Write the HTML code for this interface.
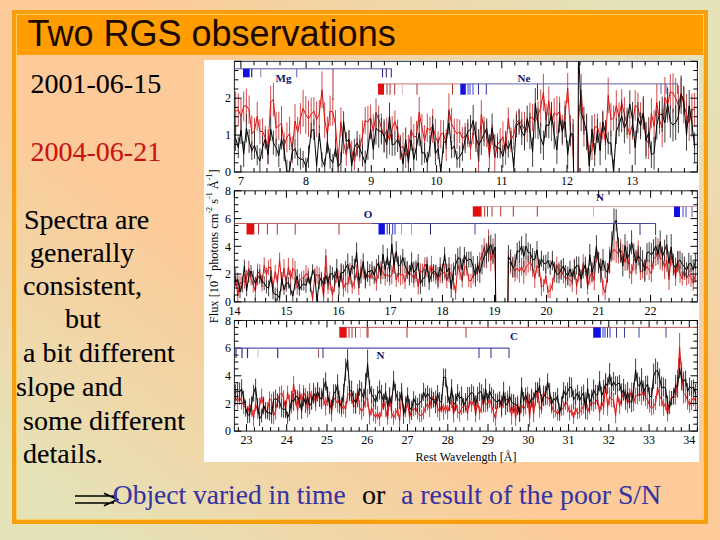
<!DOCTYPE html>
<html><head><meta charset="utf-8"><style>
*{margin:0;padding:0;box-sizing:border-box}
html,body{width:720px;height:540px;overflow:hidden}
body{position:relative;background:linear-gradient(to top right,#E5E2B7 0%,#E5E2B7 8%,#FCCB99 40%,#FCCB99 60%,#E5E2B7 92%,#E5E2B7 100%);font-family:"Liberation Serif",serif}
.frame{position:absolute;left:12px;top:10px;width:696px;height:514px;border:4px solid #F69E0E}
.inner{position:absolute;left:16px;top:14px;width:688px;height:506px;border:1px solid rgba(255,205,80,0.85)}
.title{position:absolute;left:17px;top:15px;width:686px;height:39.5px;background:#FF9C00}
.title span{position:absolute;left:10.5px;top:-3.3px;font-family:"Liberation Sans",sans-serif;font-size:36px;line-height:44px;color:#1a0800;white-space:pre}
.t{position:absolute;font-size:28px;line-height:32px;color:#000;white-space:pre;-webkit-text-stroke:0.1px currentColor}
.chart{position:absolute;left:204px;top:60px;width:495px;height:402px;background:#fff}
svg{position:absolute;left:0;top:0}
svg text{font-family:"Liberation Serif",serif}
</style></head><body>
<div class="frame"></div>
<div class="inner"></div>
<div class="title"><span>Two RGS observations</span></div>
<div class="t" style="left:30.5px;top:68.3px">2001-06-15</div>
<div class="t" style="left:30.5px;top:135.5px;color:#C81414">2004-06-21</div>
<div class="t" style="left:24px;top:203.5px">Spectra are</div>
<div class="t" style="left:30px;top:237px">generally</div>
<div class="t" style="left:23px;top:270px">consistent,</div>
<div class="t" style="left:65px;top:303px">but</div>
<div class="t" style="left:23px;top:337px">a bit different</div>
<div class="t" style="left:16px;top:370.5px">slope and</div>
<div class="t" style="left:23px;top:404.5px">some different</div>
<div class="t" style="left:23px;top:438px">details.</div>
<div class="chart"></div>
<svg width="720" height="540" viewBox="0 0 720 540">
<clipPath id="c0"><rect x="234.4" y="61.3" width="463.0" height="110.7"/></clipPath><g clip-path="url(#c0)">
<path d="M235.6 131.5V91.6M238.3 125.7V93.4M241.0 134.3V98.4M243.7 121.3V91.4M246.4 123.1V88.5M249.1 123.9V95.5M251.8 152.5V115.5M254.5 143.0V117.8M257.2 131.0V101.7M259.9 144.1V119.2M262.6 145.1V117.9M265.3 149.4V125.9M268.0 164.2V129.5M270.7 117.9V85.8M273.4 116.4V82.7M276.1 144.4V111.7M278.8 140.2V111.7M281.5 140.1V105.9M284.2 159.0V132.5M286.9 152.3V122.3M289.6 150.3V116.8M292.3 163.3V136.6M295.0 137.8V104.2M297.7 147.8V116.8M300.4 133.9V103.0M303.1 126.8V89.9M305.8 133.8V96.1M308.5 136.9V100.6M311.2 130.7V97.7M313.9 125.3V97.0M316.6 137.4V101.6M319.3 127.6V100.1M322.0 108.2V71.4M324.7 138.1V102.0M327.4 151.7V116.6M330.1 126.1V95.6M332.8 125.8V98.2M335.5 139.8V110.1M338.2 172.0V149.3M340.9 136.8V107.4M343.6 153.8V132.0M346.3 165.8V143.8M349.0 148.7V129.8M351.7 160.5V140.7M354.4 170.5V152.5M357.1 156.7V137.7M359.8 161.0V134.5M362.5 150.7V120.6M365.2 133.9V106.9M367.9 138.2V106.0M370.6 130.5V104.5M373.3 148.5V114.2M376.0 128.0V98.4M378.7 133.4V105.7M381.4 142.0V113.4M384.1 151.7V121.5M386.8 142.6V117.5M389.5 154.6V126.1M392.2 140.4V116.2M394.9 132.6V110.2M397.6 142.8V119.6M400.3 160.2V134.8M403.0 160.7V132.5M405.7 168.0V144.8M408.4 161.3V134.8M411.1 144.3V116.5M413.8 150.3V124.1M416.5 151.3V121.0M419.2 127.3V97.0M421.9 141.1V113.9M424.6 156.4V125.2M427.3 142.0V113.6M430.0 143.8V116.6M432.7 143.1V108.9M435.4 153.4V118.7M438.1 155.4V131.3M440.8 148.4V119.9M443.5 146.1V120.2M446.2 161.0V129.3M448.9 125.8V93.3M451.6 139.2V108.1M454.3 141.0V118.7M457.0 149.0V118.7M459.7 143.4V119.5M462.4 149.6V127.0M465.1 149.5V122.9M467.8 147.1V122.8M470.5 159.6V138.4M473.2 144.1V121.2M475.9 148.1V121.7M478.6 172.0V150.0M481.3 128.7V100.2M484.0 141.7V116.6M486.7 147.2V121.3M489.4 169.0V142.2M492.1 145.0V124.2M494.8 171.8V144.5M497.5 154.9V133.2M500.2 155.4V128.2M502.9 151.6V121.7M505.6 164.9V136.7M508.3 128.9V107.4M511.0 152.3V127.5M513.7 149.8V119.5M516.4 133.9V111.1M519.1 132.4V108.4M521.8 136.9V111.6M524.5 146.9V111.8M527.2 142.2V116.8M529.9 133.0V102.6M532.6 131.0V103.9M535.3 138.6V104.9M538.0 129.0V101.1M540.7 127.1V89.3M543.4 111.0V73.8M546.1 137.0V103.6M548.8 115.2V86.5M551.5 141.2V104.4M554.2 127.8V97.9M556.9 134.1V95.9M559.6 125.8V96.6M562.3 145.5V114.7M565.0 129.9V100.8M567.7 102.9V73.1M570.4 146.7V115.0M573.1 156.8V123.7M578.5 135.4V104.4M581.2 106.5V74.1M583.9 146.8V114.8M586.6 141.6V115.2M589.3 166.3V144.9M592.0 160.0V139.7M594.7 140.5V113.9M597.4 140.0V113.4M600.1 151.2V122.2M602.8 139.5V110.3M605.5 159.6V126.8M608.2 113.3V77.5M610.9 136.3V102.9M613.6 130.8V105.5M616.3 120.6V90.3M619.0 131.3V102.4M621.7 116.6V89.2M624.4 131.2V97.2M627.1 138.3V111.1M629.8 154.1V116.5M632.5 139.8V108.5M635.2 120.7V90.2M637.9 122.1V92.4M640.6 136.1V102.2M643.3 127.6V98.1M646.0 155.9V122.1M648.7 159.1V128.6M651.4 128.3V98.1M654.1 142.6V110.2M656.8 121.1V84.0M659.5 134.2V105.4M662.2 147.2V109.0M664.9 117.9V76.9M667.6 122.5V86.8M670.3 109.7V74.1M673.0 112.6V73.4M675.7 118.3V78.1M678.4 125.0V85.4M681.1 108.0V77.7M683.8 123.6V86.6M686.5 133.4V93.8M689.2 141.0V105.5M691.9 124.6V93.6M694.6 126.9V93.0" stroke="#cc3636" stroke-width="0.9" fill="none"/>
<polyline points="235.6,111.5 238.3,109.6 241.0,116.4 243.7,106.3 246.4,105.8 249.1,109.7 251.8,134.0 254.5,130.4 257.2,116.4 259.9,131.6 262.6,131.5 265.3,137.7 268.0,146.9 270.7,101.9 273.4,99.6 276.1,128.1 278.8,125.9 281.5,123.0 284.2,145.8 286.9,137.3 289.6,133.6 292.3,150.0 295.0,121.0 297.7,132.3 300.4,118.5 303.1,108.4 305.8,114.9 308.5,118.8 311.2,114.2 313.9,111.2 316.6,119.5 319.3,113.9 322.0,89.8 324.7,120.1 327.4,134.1 330.1,110.9 332.8,112.0 335.5,125.0 338.2,161.4 340.9,122.1 343.6,142.9 346.3,154.8 349.0,139.3 351.7,150.6 354.4,161.5 357.1,147.2 359.8,147.8 362.5,135.7 365.2,120.4 367.9,122.1 370.6,117.5 373.3,131.4 376.0,113.2 378.7,119.5 381.4,127.7 384.1,136.6 386.8,130.1 389.5,140.4 392.2,128.3 394.9,121.4 397.6,131.2 400.3,147.5 403.0,146.6 405.7,156.4 408.4,148.0 411.1,130.4 413.8,137.2 416.5,136.1 419.2,112.2 421.9,127.5 424.6,140.8 427.3,127.8 430.0,130.2 432.7,126.0 435.4,136.1 438.1,143.4 440.8,134.2 443.5,133.1 446.2,145.1 448.9,109.6 451.6,123.7 454.3,129.8 457.0,133.8 459.7,131.4 462.4,138.3 465.1,136.2 467.8,134.9 470.5,149.0 473.2,132.7 475.9,134.9 478.6,161.5 481.3,114.4 484.0,129.1 486.7,134.3 489.4,155.6 492.1,134.6 494.8,158.1 497.5,144.1 500.2,141.8 502.9,136.7 505.6,150.8 508.3,118.2 511.0,139.9 513.7,134.7 516.4,122.5 519.1,120.4 521.8,124.3 524.5,129.3 527.2,129.5 529.9,117.8 532.6,117.5 535.3,121.7 538.0,115.1 540.7,108.2 543.4,92.4 546.1,120.3 548.8,100.8 551.5,122.8 554.2,112.9 556.9,115.0 559.6,111.2 562.3,130.1 565.0,115.4 567.7,88.0 570.4,130.9 573.1,140.2 573.6,174.0" stroke="#dd1010" stroke-width="1" fill="none"/>
<polyline points="578.0,174.0 578.5,119.9 581.2,90.3 583.9,130.8 586.6,128.4 589.3,155.6 592.0,149.9 594.7,127.2 597.4,126.7 600.1,136.7 602.8,124.9 605.5,143.2 608.2,95.4 610.9,119.6 613.6,118.1 616.3,105.5 619.0,116.9 621.7,102.9 624.4,114.2 627.1,124.7 629.8,135.3 632.5,124.2 635.2,105.4 637.9,107.3 640.6,119.2 643.3,112.8 646.0,139.0 648.7,143.9 651.4,113.2 654.1,126.4 656.8,102.5 659.5,119.8 662.2,128.1 664.9,97.4 667.6,104.6 670.3,91.9 673.0,93.0 675.7,98.2 678.4,105.2 681.1,92.9 683.8,105.1 686.5,113.6 689.2,123.3 691.9,109.1 694.6,110.0" stroke="#dd1010" stroke-width="1" fill="none"/>
<path d="M235.6 150.7V126.0M238.3 158.2V136.7M241.0 144.1V116.2M243.7 167.0V141.3M246.4 142.5V113.9M249.1 152.9V129.2M251.8 160.1V141.1M254.5 158.9V131.4M257.2 165.3V145.1M259.9 172.0V148.2M262.6 159.1V135.7M265.3 148.3V129.4M268.0 164.3V144.9M270.7 140.9V117.2M273.4 154.7V130.6M276.1 156.5V138.7M278.8 167.0V144.3M281.5 149.5V127.7M284.2 161.2V139.1M286.9 172.0V159.7M289.6 172.0V161.1M292.3 160.5V142.9M295.0 158.6V138.5M297.7 165.6V148.5M300.4 169.7V148.2M303.1 167.8V150.9M305.8 172.0V157.6M308.5 167.8V145.5M311.2 138.0V122.7M313.9 140.0V119.3M316.6 172.0V157.7M319.3 141.1V125.5M322.0 167.3V152.4M324.7 172.0V158.6M327.4 153.3V130.4M330.1 168.6V148.4M332.8 171.8V154.0M335.5 157.0V139.2M338.2 172.0V153.9M340.9 172.0V151.7M343.6 131.9V111.2M346.3 151.2V132.0M349.0 148.6V130.4M351.7 172.0V155.4M354.4 156.5V138.8M357.1 155.3V130.9M359.8 157.5V139.4M362.5 166.6V144.3M365.2 172.0V150.4M367.9 160.1V138.2M370.6 139.2V118.5M373.3 159.6V139.3M376.0 144.6V112.0M378.7 147.9V113.9M381.4 144.6V117.9M384.1 152.7V119.2M386.8 158.6V130.8M389.5 129.4V102.7M392.2 155.8V134.1M394.9 155.7V131.5M397.6 152.0V126.3M400.3 158.4V136.4M403.0 172.0V153.6M405.7 151.8V127.4M408.4 172.0V150.6M411.1 150.7V129.3M413.8 170.7V148.0M416.5 160.6V132.5M419.2 146.1V119.7M421.9 165.1V141.0M424.6 162.9V143.0M427.3 172.0V151.9M430.0 157.1V135.5M432.7 132.6V115.8M435.4 165.2V142.6M438.1 159.2V138.5M440.8 172.0V163.9M443.5 153.4V132.5M446.2 149.0V133.1M448.9 134.5V111.9M451.6 158.3V140.2M454.3 157.6V134.2M457.0 167.8V150.9M459.7 167.8V145.6M462.4 161.1V142.8M465.1 153.0V126.9M467.8 144.0V119.1M470.5 143.9V115.0M473.2 135.4V105.1M475.9 152.0V121.8M478.6 161.9V129.0M481.3 154.9V125.3M484.0 146.2V121.4M486.7 138.8V118.4M489.4 157.6V134.2M492.1 141.6V113.5M494.8 157.3V134.2M497.5 158.0V137.1M500.2 158.4V139.0M502.9 167.7V145.0M505.6 154.0V131.1M508.3 157.6V140.5M511.0 148.9V131.0M513.7 172.0V157.6M516.4 137.3V114.4M519.1 134.8V109.8M521.8 145.0V119.0M524.5 150.4V122.0M527.2 132.3V105.6M529.9 148.8V112.7M532.6 166.8V137.5M535.3 118.5V88.1M538.0 139.1V107.8M540.7 153.7V123.0M543.4 160.0V130.6M546.1 137.8V111.9M548.8 138.2V112.7M551.5 125.8V102.0M554.2 148.8V121.7M556.9 163.8V135.8M559.6 132.4V102.8M562.3 143.5V119.6M565.0 137.3V106.0M567.7 168.6V140.4M570.4 145.0V122.3M573.1 150.0V119.0M578.5 72.6V61.3M581.2 131.2V95.1M583.9 134.8V106.9M586.6 150.0V113.6M589.3 172.0V151.1M592.0 142.6V115.3M594.7 166.4V142.9M597.4 142.9V118.7M600.1 165.3V135.9M602.8 132.1V111.7M605.5 145.3V119.9M608.2 154.5V131.8M610.9 155.3V130.5M613.6 172.0V159.3M616.3 144.1V118.0M619.0 136.5V113.6M621.7 132.4V99.5M624.4 143.3V113.0M627.1 134.9V107.7M629.8 118.1V90.3M632.5 136.8V102.0M635.2 165.0V130.5M637.9 133.3V102.2M640.6 139.3V112.2M643.3 129.9V96.1M646.0 158.9V122.5M648.7 147.7V117.2M651.4 167.9V141.4M654.1 169.6V136.8M656.8 139.6V110.1M659.5 128.2V100.8M662.2 132.1V96.4M664.9 142.6V102.9M667.6 119.5V88.1M670.3 137.8V105.6M673.0 141.4V108.8M675.7 140.2V105.1M678.4 133.1V99.7M681.1 113.9V75.5M683.8 114.8V86.0M686.5 150.7V119.4M689.2 121.7V89.9M691.9 136.7V108.8M694.6 162.3V132.4" stroke="#2a2a2a" stroke-width="0.9" fill="none"/>
<polyline points="235.6,138.4 238.3,147.5 241.0,130.2 243.7,154.1 246.4,128.2 249.1,141.1 251.8,150.6 254.5,145.2 257.2,155.2 259.9,160.9 262.6,147.4 265.3,138.9 268.0,154.6 270.7,129.1 273.4,142.7 276.1,147.6 278.8,155.6 281.5,138.6 284.2,150.2 286.9,172.0 289.6,170.7 292.3,151.7 295.0,148.6 297.7,157.1 300.4,159.0 303.1,159.4 305.8,166.1 308.5,156.6 311.2,130.3 313.9,129.7 316.6,165.8 319.3,133.3 322.0,159.9 324.7,166.2 327.4,141.8 330.1,158.5 332.8,162.9 335.5,148.1 338.2,166.6 340.9,162.6 343.6,121.5 346.3,141.6 349.0,139.5 351.7,166.0 354.4,147.6 357.1,143.1 359.8,148.5 362.5,155.5 365.2,163.1 367.9,149.1 370.6,128.9 373.3,149.5 376.0,128.3 378.7,130.9 381.4,131.2 384.1,135.9 386.8,144.7 389.5,116.0 392.2,145.0 394.9,143.6 397.6,139.2 400.3,147.4 403.0,163.9 405.7,139.6 408.4,162.5 411.1,140.0 413.8,159.4 416.5,146.6 419.2,132.9 421.9,153.0 424.6,153.0 427.3,162.6 430.0,146.3 432.7,124.2 435.4,153.9 438.1,148.9 440.8,172.0 443.5,143.0 446.2,141.1 448.9,123.2 451.6,149.2 454.3,145.9 457.0,159.3 459.7,156.7 462.4,151.9 465.1,140.0 467.8,131.5 470.5,129.4 473.2,120.3 475.9,136.9 478.6,145.4 481.3,140.1 484.0,133.8 486.7,128.6 489.4,145.9 492.1,127.6 494.8,145.8 497.5,147.6 500.2,148.7 502.9,156.3 505.6,142.5 508.3,149.1 511.0,139.9 513.7,167.3 516.4,125.9 519.1,122.3 521.8,132.0 524.5,136.2 527.2,118.9 529.9,130.8 532.6,152.2 535.3,103.3 538.0,123.5 540.7,138.3 543.4,145.3 546.1,124.9 548.8,125.5 551.5,113.9 554.2,135.2 556.9,149.8 559.6,117.6 562.3,131.5 565.0,121.6 567.7,154.5 570.4,133.7 573.1,134.5 573.6,174.0" stroke="#000000" stroke-width="1" fill="none"/>
<polyline points="578.0,174.0 578.5,48.2 581.2,113.2 583.9,120.9 586.6,131.8 589.3,165.9 592.0,128.9 594.7,154.6 597.4,130.8 600.1,150.6 602.8,121.9 605.5,132.6 608.2,143.1 610.9,142.9 613.6,172.0 616.3,131.0 619.0,125.0 621.7,115.9 624.4,128.1 627.1,121.3 629.8,104.2 632.5,119.4 635.2,147.8 637.9,117.8 640.6,125.7 643.3,113.0 646.0,140.7 648.7,132.5 651.4,154.7 654.1,153.2 656.8,124.9 659.5,114.5 662.2,114.2 664.9,122.8 667.6,103.8 670.3,121.7 673.0,125.1 675.7,122.6 678.4,116.4 681.1,94.7 683.8,100.4 686.5,135.0 689.2,105.8 691.9,122.8 694.6,147.4" stroke="#000000" stroke-width="1" fill="none"/>
</g>
<rect x="234.4" y="61.3" width="463.0" height="110.7" fill="none" stroke="#222" stroke-width="1"/>
<path d="M240.9 172.0V165.0M240.9 61.3V68.3M254.0 172.0V168.0M254.0 61.3V65.3M267.0 172.0V168.0M267.0 61.3V65.3M280.0 172.0V168.0M280.0 61.3V65.3M293.1 172.0V168.0M293.1 61.3V65.3M306.1 172.0V165.0M306.1 61.3V68.3M319.2 172.0V168.0M319.2 61.3V65.3M332.2 172.0V168.0M332.2 61.3V65.3M345.3 172.0V168.0M345.3 61.3V65.3M358.3 172.0V168.0M358.3 61.3V65.3M371.3 172.0V165.0M371.3 61.3V68.3M384.4 172.0V168.0M384.4 61.3V65.3M397.4 172.0V168.0M397.4 61.3V65.3M410.5 172.0V168.0M410.5 61.3V65.3M423.5 172.0V168.0M423.5 61.3V65.3M436.6 172.0V165.0M436.6 61.3V68.3M449.6 172.0V168.0M449.6 61.3V65.3M462.6 172.0V168.0M462.6 61.3V65.3M475.7 172.0V168.0M475.7 61.3V65.3M488.7 172.0V168.0M488.7 61.3V65.3M501.8 172.0V165.0M501.8 61.3V68.3M514.8 172.0V168.0M514.8 61.3V65.3M527.9 172.0V168.0M527.9 61.3V65.3M540.9 172.0V168.0M540.9 61.3V65.3M553.9 172.0V168.0M553.9 61.3V65.3M567.0 172.0V165.0M567.0 61.3V68.3M580.0 172.0V168.0M580.0 61.3V65.3M593.1 172.0V168.0M593.1 61.3V65.3M606.1 172.0V168.0M606.1 61.3V65.3M619.1 172.0V168.0M619.1 61.3V65.3M632.2 172.0V165.0M632.2 61.3V68.3M645.2 172.0V168.0M645.2 61.3V65.3M658.3 172.0V168.0M658.3 61.3V65.3M671.3 172.0V168.0M671.3 61.3V65.3M684.4 172.0V168.0M684.4 61.3V65.3M697.4 172.0V165.0M697.4 61.3V68.3M234.4 172.0H241.4M697.4 172.0H690.4M234.4 162.8H238.4M697.4 162.8H693.4M234.4 153.6H238.4M697.4 153.6H693.4M234.4 144.3H238.4M697.4 144.3H693.4M234.4 135.1H241.4M697.4 135.1H690.4M234.4 125.9H238.4M697.4 125.9H693.4M234.4 116.7H238.4M697.4 116.7H693.4M234.4 107.4H238.4M697.4 107.4H693.4M234.4 98.2H241.4M697.4 98.2H690.4M234.4 89.0H238.4M697.4 89.0H693.4M234.4 79.8H238.4M697.4 79.8H693.4M234.4 70.5H238.4M697.4 70.5H693.4M234.4 61.3H241.4M697.4 61.3H690.4" stroke="#000" stroke-width="1" fill="none"/>
<text x="231" y="176.2" text-anchor="end" font-size="12">0</text>
<text x="231" y="139.3" text-anchor="end" font-size="12">1</text>
<text x="231" y="102.4" text-anchor="end" font-size="12">2</text>
<text x="240.9" y="185.0" text-anchor="middle" font-size="12">7</text>
<text x="306.1" y="185.0" text-anchor="middle" font-size="12">8</text>
<text x="371.3" y="185.0" text-anchor="middle" font-size="12">9</text>
<text x="436.6" y="185.0" text-anchor="middle" font-size="12">10</text>
<text x="501.8" y="185.0" text-anchor="middle" font-size="12">11</text>
<text x="567.0" y="185.0" text-anchor="middle" font-size="12">12</text>
<text x="632.2" y="185.0" text-anchor="middle" font-size="12">13</text>
<clipPath id="c1"><rect x="234.4" y="190.8" width="463.0" height="111.1"/></clipPath><g clip-path="url(#c1)">
<path d="M235.6 284.4V268.0M237.8 301.9V287.6M240.0 289.5V275.9M242.2 290.8V275.2M244.4 288.6V273.6M246.6 286.1V269.8M248.8 275.5V260.8M251.0 285.5V273.0M253.2 292.5V276.8M255.4 299.4V283.2M257.6 280.0V263.5M259.8 282.4V264.5M262.0 291.4V274.9M264.2 273.3V257.2M266.4 281.2V267.8M268.6 275.1V260.1M270.8 276.4V258.2M273.0 294.6V281.0M275.2 278.3V264.9M277.4 291.9V273.9M279.6 267.1V252.5M281.8 291.2V277.4M284.0 277.2V259.1M286.2 292.0V275.0M288.4 275.4V257.9M290.6 288.3V270.0M292.8 279.4V258.1M295.0 279.7V260.9M297.2 294.5V282.0M299.4 288.3V273.7M301.6 285.6V271.3M303.8 284.2V270.2M306.0 282.9V265.1M308.2 281.7V267.9M310.4 291.5V279.0M312.6 301.9V291.2M314.8 282.4V268.1M317.0 283.9V265.8M319.2 284.7V267.4M321.4 287.0V274.1M323.6 301.9V288.3M325.8 262.0V249.0M328.0 294.0V277.5M330.2 290.9V273.5M332.4 301.9V286.3M334.6 292.1V279.1M336.8 282.9V267.8M339.0 286.3V270.2M341.2 280.7V264.8M343.4 296.7V280.9M345.6 291.3V275.0M347.8 293.3V275.7M350.0 279.5V262.9M352.2 293.7V280.9M354.4 289.2V274.9M356.6 278.1V264.4M358.8 295.0V280.9M361.0 277.7V259.5M363.2 279.2V262.3M365.4 286.5V269.4M367.6 281.2V268.3M369.8 286.0V270.1M372.0 279.3V265.1M374.2 280.4V267.2M376.4 290.9V274.6M378.6 278.7V263.7M380.8 278.9V261.3M383.0 279.2V265.9M385.2 285.7V266.6M387.4 281.9V267.1M389.6 285.8V268.6M391.8 284.2V265.3M394.0 272.7V253.2M396.2 287.0V273.3M398.4 282.3V262.6M400.6 285.3V264.7M402.8 283.9V265.0M405.0 289.0V274.5M407.2 277.7V262.0M409.4 282.1V266.1M411.6 282.9V266.2M413.8 287.4V270.0M416.0 282.0V262.3M418.2 294.6V278.9M420.4 277.6V263.2M422.6 282.2V263.7M424.8 270.7V257.3M427.0 277.6V259.7M429.2 283.9V265.6M431.4 273.4V255.8M433.6 281.5V265.7M435.8 283.9V264.7M438.0 288.7V272.3M440.2 283.1V264.4M442.4 283.6V264.3M444.6 279.4V263.3M446.8 288.2V273.4M449.0 282.3V263.3M451.2 282.2V264.2M453.4 290.0V270.7M455.6 299.9V286.1M457.8 274.7V256.1M460.0 279.7V264.8M462.2 287.5V272.7M464.4 276.2V258.6M466.6 275.5V257.5M468.8 286.9V273.6M471.0 288.3V273.8M473.2 283.5V266.8M475.4 282.6V266.7M477.6 281.1V262.5M479.8 268.6V252.2M482.0 266.5V244.6M484.2 257.7V238.1M486.4 268.4V242.9M488.6 254.6V229.4M490.8 271.2V249.7M493.0 262.3V238.3M495.2 270.0V247.1M508.4 273.4V251.1M510.6 273.5V253.3M512.8 277.7V256.5M515.0 281.6V260.6M517.2 278.5V257.6M519.4 282.6V260.5M521.6 275.5V257.6M523.8 283.8V261.1M526.0 275.5V258.6M528.2 272.6V256.0M530.4 270.9V253.3M532.6 276.8V258.1M534.8 288.0V268.8M537.0 273.6V258.0M539.2 277.1V259.8M541.4 296.0V277.6M543.6 291.7V279.2M545.8 284.0V267.8M548.0 298.2V286.1M550.2 298.2V283.3M552.4 290.7V277.8M554.6 282.2V263.9M556.8 272.2V256.8M559.0 278.7V262.1M561.2 278.3V260.8M563.4 283.6V267.7M565.6 287.8V268.9M567.8 284.9V270.2M570.0 287.0V272.8M572.2 291.9V271.8M574.4 276.8V258.4M576.6 294.7V278.5M578.8 282.0V264.4M581.0 288.2V269.0M583.2 274.3V254.2M585.4 276.1V261.3M587.6 294.5V278.7M589.8 284.6V268.9M592.0 282.9V261.5M594.2 290.5V270.8M596.4 262.8V245.4M598.6 271.3V251.7M600.8 279.2V259.6M603.0 295.5V279.5M605.2 300.4V285.4M607.4 283.1V268.6M609.6 272.2V246.7M611.8 262.0V243.7M614.0 260.4V238.5M616.2 262.9V241.0M618.4 263.7V243.2M620.6 260.9V239.1M622.8 262.7V244.4M625.0 270.7V254.0M627.2 263.4V240.8M629.4 278.8V261.9M631.6 284.0V264.1M633.8 271.1V249.7M636.0 269.4V249.2M638.2 260.6V240.4M640.4 280.1V264.6M642.6 278.5V262.0M644.8 279.5V259.8M647.0 274.9V258.4M649.2 280.1V260.1M651.4 282.3V265.2M653.6 269.5V247.9M655.8 266.0V248.8M658.0 260.1V238.3M660.2 269.7V247.3M662.4 270.9V246.7M664.6 279.1V255.9M666.8 272.0V248.2M669.0 290.0V269.4M671.2 265.9V246.6M673.4 272.6V257.7M675.6 285.9V267.4M677.8 271.1V251.1M680.0 283.1V264.8M682.2 285.6V271.9M684.4 280.0V260.0M686.6 285.4V271.6M688.8 283.9V264.6M691.0 286.9V268.0M693.2 290.9V275.9M695.4 282.8V266.9" stroke="#cc3636" stroke-width="0.9" fill="none"/>
<polyline points="235.6,276.2 237.8,295.7 240.0,282.7 242.2,283.0 244.4,281.1 246.6,278.0 248.8,268.1 251.0,279.2 253.2,284.7 255.4,291.3 257.6,271.8 259.8,273.4 262.0,283.2 264.2,265.3 266.4,274.5 268.6,267.6 270.8,267.3 273.0,287.8 275.2,271.6 277.4,282.9 279.6,259.8 281.8,284.3 284.0,268.1 286.2,283.5 288.4,266.7 290.6,279.1 292.8,268.7 295.0,270.3 297.2,288.3 299.4,281.0 301.6,278.5 303.8,277.2 306.0,274.0 308.2,274.8 310.4,285.2 312.6,299.6 314.8,275.2 317.0,274.8 319.2,276.0 321.4,280.5 323.6,297.2 325.8,255.5 328.0,285.8 330.2,282.2 332.4,295.1 334.6,285.6 336.8,275.4 339.0,278.3 341.2,272.8 343.4,288.8 345.6,283.1 347.8,284.5 350.0,271.2 352.2,287.3 354.4,282.0 356.6,271.3 358.8,287.9 361.0,268.6 363.2,270.7 365.4,278.0 367.6,274.7 369.8,278.0 372.0,272.2 374.2,273.8 376.4,282.8 378.6,271.2 380.8,270.1 383.0,272.6 385.2,276.1 387.4,274.5 389.6,277.2 391.8,274.7 394.0,262.9 396.2,280.1 398.4,272.5 400.6,275.0 402.8,274.4 405.0,281.8 407.2,269.9 409.4,274.1 411.6,274.6 413.8,278.7 416.0,272.1 418.2,286.7 420.4,270.4 422.6,273.0 424.8,264.0 427.0,268.7 429.2,274.8 431.4,264.6 433.6,273.6 435.8,274.3 438.0,280.5 440.2,273.7 442.4,274.0 444.6,271.4 446.8,280.8 449.0,272.8 451.2,273.2 453.4,280.3 455.6,293.0 457.8,265.4 460.0,272.3 462.2,280.1 464.4,267.4 466.6,266.5 468.8,280.2 471.0,281.0 473.2,275.1 475.4,274.7 477.6,271.8 479.8,260.4 482.0,255.6 484.2,247.9 486.4,255.6 488.6,242.0 490.8,260.4 493.0,250.3 495.2,258.5 495.7,303.9" stroke="#dd1010" stroke-width="1" fill="none"/>
<polyline points="507.9,303.9 508.4,262.2 510.6,263.4 512.8,267.1 515.0,271.1 517.2,268.0 519.4,271.5 521.6,266.5 523.8,272.5 526.0,267.0 528.2,264.3 530.4,262.1 532.6,267.4 534.8,278.4 537.0,265.8 539.2,268.4 541.4,286.8 543.6,285.5 545.8,275.9 548.0,292.1 550.2,290.7 552.4,284.3 554.6,273.1 556.8,264.5 559.0,270.4 561.2,269.5 563.4,275.6 565.6,278.3 567.8,277.6 570.0,279.9 572.2,281.8 574.4,267.6 576.6,286.6 578.8,273.2 581.0,278.6 583.2,264.3 585.4,268.7 587.6,286.6 589.8,276.7 592.0,272.2 594.2,280.6 596.4,254.1 598.6,261.5 600.8,269.4 603.0,287.5 605.2,292.9 607.4,275.8 609.6,259.5 611.8,252.9 614.0,249.4 616.2,251.9 618.4,253.5 620.6,250.0 622.8,253.6 625.0,262.3 627.2,252.1 629.4,270.3 631.6,274.1 633.8,260.4 636.0,259.3 638.2,250.5 640.4,272.4 642.6,270.2 644.8,269.6 647.0,266.7 649.2,270.1 651.4,273.8 653.6,258.7 655.8,257.4 658.0,249.2 660.2,258.5 662.4,258.8 664.6,267.5 666.8,260.1 669.0,279.7 671.2,256.3 673.4,265.1 675.6,276.6 677.8,261.1 680.0,274.0 682.2,278.8 684.4,270.0 686.6,278.5 688.8,274.3 691.0,277.5 693.2,283.4 695.4,274.8" stroke="#dd1010" stroke-width="1" fill="none"/>
<path d="M235.6 286.5V275.4M237.8 286.3V272.6M240.0 298.1V285.9M242.2 292.6V277.1M244.4 272.0V259.6M246.6 296.4V285.3M248.8 282.7V270.0M251.0 276.9V265.1M253.2 284.9V270.6M255.4 290.5V276.8M257.6 285.3V269.4M259.8 283.7V269.2M262.0 287.0V275.0M264.2 290.0V276.1M266.4 293.4V280.5M268.6 296.2V280.3M270.8 282.2V270.3M273.0 299.4V284.5M275.2 301.7V287.5M277.4 300.8V288.2M279.6 301.9V291.3M281.8 285.9V271.9M284.0 294.9V284.5M286.2 289.7V277.0M288.4 288.7V277.1M290.6 295.4V283.3M292.8 301.7V290.5M295.0 289.8V277.6M297.2 283.1V269.1M299.4 295.7V284.3M301.6 290.6V280.1M303.8 290.6V277.3M306.0 292.9V278.5M308.2 283.4V271.3M310.4 292.1V276.7M312.6 275.2V264.3M314.8 281.7V269.3M317.0 301.9V294.7M319.2 289.1V273.9M321.4 285.2V271.7M323.6 293.3V277.0M325.8 283.9V266.7M328.0 289.5V276.1M330.2 282.3V265.3M332.4 280.2V267.0M334.6 286.5V271.4M336.8 278.4V259.0M339.0 295.3V279.3M341.2 281.9V263.3M343.4 280.8V264.6M345.6 275.8V260.9M347.8 274.8V253.5M350.0 284.4V268.2M352.2 274.3V255.7M354.4 279.8V258.8M356.6 262.2V242.4M358.8 288.2V273.1M361.0 283.5V266.5M363.2 269.8V253.3M365.4 288.5V271.6M367.6 281.8V261.1M369.8 279.2V263.9M372.0 278.7V261.4M374.2 284.1V265.9M376.4 274.9V259.3M378.6 269.9V254.9M380.8 283.9V266.9M383.0 263.7V244.7M385.2 278.6V261.0M387.4 264.9V248.4M389.6 281.8V260.9M391.8 254.0V234.2M394.0 273.9V256.6M396.2 262.2V241.3M398.4 276.2V256.4M400.6 273.6V255.3M402.8 265.9V248.9M405.0 273.6V257.4M407.2 279.2V261.0M409.4 285.4V265.0M411.6 271.5V252.5M413.8 283.3V261.6M416.0 278.8V260.5M418.2 271.0V254.0M420.4 293.9V273.9M422.6 286.6V270.3M424.8 286.7V268.8M427.0 271.5V256.8M429.2 289.9V273.7M431.4 281.9V267.7M433.6 277.8V264.2M435.8 280.3V265.1M438.0 286.8V267.0M440.2 276.6V257.5M442.4 281.1V263.5M444.6 261.6V247.1M446.8 280.4V263.7M449.0 279.0V257.1M451.2 297.9V279.9M453.4 280.1V262.6M455.6 275.4V254.0M457.8 268.7V248.3M460.0 269.4V246.6M462.2 281.5V258.6M464.4 263.2V247.0M466.6 270.1V252.0M468.8 267.6V251.5M471.0 267.3V251.4M473.2 277.7V255.9M475.4 286.5V263.7M477.6 274.4V256.0M479.8 283.0V262.5M482.0 274.5V253.5M484.2 267.5V245.6M486.4 263.3V243.9M488.6 261.7V235.8M490.8 254.6V234.8M493.0 264.2V243.7M495.2 260.3V233.6M508.4 268.3V245.1M510.6 271.7V249.3M512.8 277.3V257.5M515.0 276.7V254.3M517.2 259.1V242.5M519.4 262.8V240.8M521.6 255.4V236.3M523.8 267.3V245.7M526.0 259.1V233.2M528.2 262.5V242.4M530.4 261.8V244.1M532.6 271.1V248.1M534.8 268.4V251.0M537.0 258.5V241.1M539.2 276.5V258.9M541.4 266.8V250.7M543.6 270.7V255.4M545.8 273.5V254.8M548.0 268.7V251.7M550.2 275.1V260.3M552.4 270.3V250.8M554.6 277.2V261.7M556.8 283.0V265.7M559.0 283.4V263.8M561.2 279.9V259.9M563.4 273.5V258.0M565.6 280.5V264.9M567.8 285.5V266.5M570.0 277.1V260.5M572.2 284.9V268.7M574.4 279.6V259.7M576.6 274.6V256.5M578.8 275.6V256.7M581.0 288.3V270.3M583.2 278.5V262.2M585.4 272.3V256.9M587.6 288.7V267.9M589.8 265.5V243.9M592.0 281.1V263.1M594.2 274.1V255.9M596.4 258.1V235.3M598.6 273.1V252.0M600.8 282.7V258.4M603.0 271.1V249.0M605.2 278.3V260.8M607.4 282.0V263.0M609.6 273.6V250.9M611.8 259.6V231.3M614.0 239.4V208.3M616.2 231.3V209.2M618.4 257.5V237.3M620.6 262.8V242.7M622.8 276.4V255.8M625.0 256.9V234.1M627.2 270.6V246.9M629.4 264.0V244.0M631.6 254.2V230.3M633.8 261.0V243.3M636.0 274.2V251.4M638.2 265.5V245.8M640.4 271.3V246.8M642.6 272.4V250.3M644.8 282.0V259.4M647.0 262.1V243.1M649.2 262.0V242.1M651.4 266.8V243.2M653.6 263.0V239.3M655.8 255.3V236.4M658.0 264.6V244.5M660.2 252.9V230.4M662.4 266.6V247.0M664.6 261.0V239.7M666.8 254.3V234.8M669.0 275.6V251.1M671.2 260.2V234.1M673.4 275.6V253.7M675.6 278.7V257.6M677.8 272.3V251.2M680.0 269.0V250.7M682.2 275.6V252.9M684.4 276.7V256.6M686.6 278.3V262.2M688.8 274.8V252.7M691.0 271.9V255.4M693.2 280.5V259.7M695.4 269.1V253.2" stroke="#2a2a2a" stroke-width="0.9" fill="none"/>
<polyline points="235.6,280.9 237.8,279.4 240.0,292.0 242.2,284.8 244.4,265.8 246.6,290.9 248.8,276.4 251.0,271.0 253.2,277.7 255.4,283.6 257.6,277.4 259.8,276.4 262.0,281.0 264.2,283.0 266.4,286.9 268.6,288.2 270.8,276.3 273.0,291.9 275.2,294.6 277.4,294.5 279.6,298.3 281.8,278.9 284.0,289.7 286.2,283.4 288.4,282.9 290.6,289.4 292.8,296.1 295.0,283.7 297.2,276.1 299.4,290.0 301.6,285.3 303.8,283.9 306.0,285.7 308.2,277.3 310.4,284.4 312.6,269.8 314.8,275.5 317.0,301.1 319.2,281.5 321.4,278.5 323.6,285.1 325.8,275.3 328.0,282.8 330.2,273.8 332.4,273.6 334.6,278.9 336.8,268.7 339.0,287.3 341.2,272.6 343.4,272.7 345.6,268.3 347.8,264.1 350.0,276.3 352.2,265.0 354.4,269.3 356.6,252.3 358.8,280.6 361.0,275.0 363.2,261.6 365.4,280.0 367.6,271.5 369.8,271.5 372.0,270.1 374.2,275.0 376.4,267.1 378.6,262.4 380.8,275.4 383.0,254.2 385.2,269.8 387.4,256.7 389.6,271.4 391.8,244.1 394.0,265.3 396.2,251.7 398.4,266.3 400.6,264.4 402.8,257.4 405.0,265.5 407.2,270.1 409.4,275.2 411.6,262.0 413.8,272.4 416.0,269.6 418.2,262.5 420.4,283.9 422.6,278.5 424.8,277.8 427.0,264.1 429.2,281.8 431.4,274.8 433.6,271.0 435.8,272.7 438.0,276.9 440.2,267.0 442.4,272.3 444.6,254.3 446.8,272.0 449.0,268.0 451.2,288.9 453.4,271.3 455.6,264.7 457.8,258.5 460.0,258.0 462.2,270.0 464.4,255.1 466.6,261.1 468.8,259.5 471.0,259.3 473.2,266.8 475.4,275.1 477.6,265.2 479.8,272.8 482.0,264.0 484.2,256.5 486.4,253.6 488.6,248.7 490.8,244.7 493.0,254.0 495.2,246.9 495.7,303.9" stroke="#000000" stroke-width="1" fill="none"/>
<polyline points="507.9,303.9 508.4,256.7 510.6,260.5 512.8,267.4 515.0,265.5 517.2,250.8 519.4,251.8 521.6,245.9 523.8,256.5 526.0,246.2 528.2,252.5 530.4,252.9 532.6,259.6 534.8,259.7 537.0,249.8 539.2,267.7 541.4,258.8 543.6,263.0 545.8,264.1 548.0,260.2 550.2,267.7 552.4,260.5 554.6,269.5 556.8,274.3 559.0,273.6 561.2,269.9 563.4,265.7 565.6,272.7 567.8,276.0 570.0,268.8 572.2,276.8 574.4,269.7 576.6,265.5 578.8,266.2 581.0,279.3 583.2,270.4 585.4,264.6 587.6,278.3 589.8,254.7 592.0,272.1 594.2,265.0 596.4,246.7 598.6,262.5 600.8,270.5 603.0,260.1 605.2,269.6 607.4,272.5 609.6,262.3 611.8,245.5 614.0,223.9 616.2,220.3 618.4,247.4 620.6,252.7 622.8,266.1 625.0,245.5 627.2,258.7 629.4,254.0 631.6,242.2 633.8,252.1 636.0,262.8 638.2,255.6 640.4,259.1 642.6,261.3 644.8,270.7 647.0,252.6 649.2,252.1 651.4,255.0 653.6,251.2 655.8,245.9 658.0,254.5 660.2,241.7 662.4,256.8 664.6,250.3 666.8,244.5 669.0,263.4 671.2,247.2 673.4,264.7 675.6,268.2 677.8,261.8 680.0,259.9 682.2,264.3 684.4,266.7 686.6,270.3 688.8,263.8 691.0,263.7 693.2,270.1 695.4,261.1" stroke="#000000" stroke-width="1" fill="none"/>
</g>
<rect x="234.4" y="190.8" width="463.0" height="111.1" fill="none" stroke="#222" stroke-width="1"/>
<path d="M234.4 301.9V294.9M234.4 190.8V197.8M244.8 301.9V297.9M244.8 190.8V194.8M255.2 301.9V297.9M255.2 190.8V194.8M265.6 301.9V297.9M265.6 190.8V194.8M276.0 301.9V297.9M276.0 190.8V194.8M286.4 301.9V294.9M286.4 190.8V197.8M296.8 301.9V297.9M296.8 190.8V194.8M307.2 301.9V297.9M307.2 190.8V194.8M317.6 301.9V297.9M317.6 190.8V194.8M328.0 301.9V297.9M328.0 190.8V194.8M338.4 301.9V294.9M338.4 190.8V197.8M348.8 301.9V297.9M348.8 190.8V194.8M359.3 301.9V297.9M359.3 190.8V194.8M369.7 301.9V297.9M369.7 190.8V194.8M380.1 301.9V297.9M380.1 190.8V194.8M390.5 301.9V294.9M390.5 190.8V197.8M400.9 301.9V297.9M400.9 190.8V194.8M411.3 301.9V297.9M411.3 190.8V194.8M421.7 301.9V297.9M421.7 190.8V194.8M432.1 301.9V297.9M432.1 190.8V194.8M442.5 301.9V294.9M442.5 190.8V197.8M452.9 301.9V297.9M452.9 190.8V194.8M463.3 301.9V297.9M463.3 190.8V194.8M473.7 301.9V297.9M473.7 190.8V194.8M484.1 301.9V297.9M484.1 190.8V194.8M494.5 301.9V294.9M494.5 190.8V197.8M504.9 301.9V297.9M504.9 190.8V194.8M515.3 301.9V297.9M515.3 190.8V194.8M525.7 301.9V297.9M525.7 190.8V194.8M536.1 301.9V297.9M536.1 190.8V194.8M546.5 301.9V294.9M546.5 190.8V197.8M556.9 301.9V297.9M556.9 190.8V194.8M567.3 301.9V297.9M567.3 190.8V194.8M577.7 301.9V297.9M577.7 190.8V194.8M588.2 301.9V297.9M588.2 190.8V194.8M598.6 301.9V294.9M598.6 190.8V197.8M609.0 301.9V297.9M609.0 190.8V194.8M619.4 301.9V297.9M619.4 190.8V194.8M629.8 301.9V297.9M629.8 190.8V194.8M640.2 301.9V297.9M640.2 190.8V194.8M650.6 301.9V294.9M650.6 190.8V197.8M661.0 301.9V297.9M661.0 190.8V194.8M671.4 301.9V297.9M671.4 190.8V194.8M681.8 301.9V297.9M681.8 190.8V194.8M692.2 301.9V297.9M692.2 190.8V194.8M234.4 301.9H241.4M697.4 301.9H690.4M234.4 295.0H238.4M697.4 295.0H693.4M234.4 288.0H238.4M697.4 288.0H693.4M234.4 281.1H238.4M697.4 281.1H693.4M234.4 274.1H241.4M697.4 274.1H690.4M234.4 267.2H238.4M697.4 267.2H693.4M234.4 260.2H238.4M697.4 260.2H693.4M234.4 253.3H238.4M697.4 253.3H693.4M234.4 246.3H241.4M697.4 246.3H690.4M234.4 239.4H238.4M697.4 239.4H693.4M234.4 232.5H238.4M697.4 232.5H693.4M234.4 225.5H238.4M697.4 225.5H693.4M234.4 218.6H241.4M697.4 218.6H690.4M234.4 211.6H238.4M697.4 211.6H693.4M234.4 204.7H238.4M697.4 204.7H693.4M234.4 197.7H238.4M697.4 197.7H693.4M234.4 190.8H241.4M697.4 190.8H690.4" stroke="#000" stroke-width="1" fill="none"/>
<text x="231" y="306.1" text-anchor="end" font-size="12">0</text>
<text x="231" y="278.3" text-anchor="end" font-size="12">2</text>
<text x="231" y="250.5" text-anchor="end" font-size="12">4</text>
<text x="231" y="222.8" text-anchor="end" font-size="12">6</text>
<text x="231" y="195.0" text-anchor="end" font-size="12">8</text>
<text x="234.4" y="314.9" text-anchor="middle" font-size="12">14</text>
<text x="286.4" y="314.9" text-anchor="middle" font-size="12">15</text>
<text x="338.4" y="314.9" text-anchor="middle" font-size="12">16</text>
<text x="390.5" y="314.9" text-anchor="middle" font-size="12">17</text>
<text x="442.5" y="314.9" text-anchor="middle" font-size="12">18</text>
<text x="494.5" y="314.9" text-anchor="middle" font-size="12">19</text>
<text x="546.5" y="314.9" text-anchor="middle" font-size="12">20</text>
<text x="598.6" y="314.9" text-anchor="middle" font-size="12">21</text>
<text x="650.6" y="314.9" text-anchor="middle" font-size="12">22</text>
<clipPath id="c2"><rect x="234.4" y="320.5" width="463.0" height="110.6"/></clipPath><g clip-path="url(#c2)">
<path d="M235.6 405.8V389.4M237.6 409.1V394.1M239.6 404.9V390.7M241.6 409.8V393.1M243.6 414.2V397.3M245.6 414.2V402.0M247.6 419.2V407.7M249.6 410.1V398.2M251.6 416.6V400.9M253.6 426.6V409.9M255.6 411.2V396.2M257.6 418.9V403.8M259.6 414.2V397.6M261.6 403.6V388.7M263.6 414.2V397.7M265.6 418.9V405.3M267.6 417.1V401.9M269.6 405.7V391.4M271.6 408.4V393.7M273.6 424.3V407.3M275.6 419.7V401.9M277.6 407.7V393.7M279.6 403.1V386.5M281.6 400.1V385.5M283.6 405.9V390.2M285.6 418.3V401.9M287.6 399.2V385.5M289.6 410.6V394.6M291.6 413.5V397.5M293.6 392.0V376.2M295.6 405.6V391.9M297.6 419.9V402.2M299.6 399.2V384.2M301.6 412.8V393.4M303.6 399.7V385.1M305.6 404.8V387.9M307.6 417.3V403.6M309.6 399.5V383.2M311.6 409.3V390.4M313.6 404.2V386.4M315.6 411.1V394.5M317.6 398.4V384.5M319.6 406.4V392.3M321.6 407.1V388.2M323.6 405.6V392.3M325.6 415.6V396.9M327.6 406.0V387.7M329.6 407.8V391.4M331.6 421.7V403.1M333.6 405.8V389.4M335.6 408.0V392.1M337.6 412.3V395.4M339.6 407.0V390.7M341.6 416.9V402.8M343.6 414.2V395.9M345.6 417.8V401.5M347.6 402.7V386.2M349.6 399.7V386.6M351.6 403.8V390.8M353.6 413.4V400.1M355.6 414.0V397.1M357.6 396.3V384.1M359.6 414.7V400.2M361.6 419.7V403.5M363.6 416.3V399.1M365.6 407.7V390.8M367.6 407.2V388.9M369.6 424.5V408.5M371.6 415.5V400.1M373.6 421.7V405.1M375.6 423.8V411.5M377.6 419.7V405.8M379.6 425.9V411.8M381.6 416.5V404.0M383.6 406.6V394.7M385.6 416.9V401.0M387.6 424.8V413.4M389.6 403.9V388.3M391.6 418.5V407.1M393.6 424.8V410.8M395.6 419.8V408.0M397.6 415.8V401.1M399.6 427.4V414.9M401.6 400.6V387.2M403.6 416.3V404.2M405.6 417.1V405.4M407.6 407.5V395.6M409.6 424.2V411.4M411.6 415.3V403.7M413.6 416.4V404.1M415.6 415.2V399.7M417.6 419.3V407.2M419.6 422.3V407.5M421.6 421.8V409.5M423.6 419.5V406.4M425.6 413.2V399.9M427.6 410.5V396.7M429.6 417.1V400.9M431.6 404.6V387.5M433.6 407.9V392.3M435.6 407.0V390.4M437.6 417.3V399.2M439.6 421.0V403.2M441.6 412.7V396.5M443.6 419.7V403.3M445.6 414.0V396.1M447.6 419.8V404.7M449.6 411.2V398.8M451.6 408.0V392.1M453.6 422.5V406.2M455.6 410.0V394.5M457.6 418.2V404.7M459.6 421.6V406.1M461.6 415.0V401.8M463.6 413.3V399.0M465.6 412.5V397.6M467.6 420.6V407.0M469.6 407.4V393.5M471.6 411.9V399.4M473.6 406.1V393.4M475.6 422.3V407.7M477.6 407.7V394.4M479.6 419.8V406.1M481.6 413.2V399.8M483.6 404.9V388.2M485.6 412.2V395.7M487.6 411.6V397.2M489.6 407.9V389.7M491.6 413.5V396.7M493.6 422.3V403.2M495.6 426.1V411.7M497.6 407.9V392.7M499.6 408.1V391.5M501.6 417.6V399.1M503.6 408.0V395.2M505.6 408.6V392.2M507.6 406.3V390.7M509.6 412.5V397.4M511.6 424.7V406.8M513.6 411.1V395.2M515.6 425.9V411.0M517.6 409.4V395.5M519.6 422.0V408.7M521.6 413.1V397.1M523.6 416.5V401.0M525.6 414.3V397.8M527.6 398.1V386.5M529.6 426.8V410.1M531.6 402.2V390.8M533.6 422.1V406.4M535.6 406.2V392.2M537.6 394.8V381.7M539.6 417.6V401.2M541.6 413.9V398.3M543.6 398.0V385.1M545.6 405.8V389.5M547.6 405.1V389.1M549.6 406.9V393.2M551.6 413.8V396.7M553.6 418.6V404.6M555.6 416.9V403.6M557.6 420.6V408.8M559.6 416.9V403.0M561.6 416.0V402.4M563.6 415.2V400.7M565.6 409.8V392.9M567.6 412.6V397.5M569.6 420.4V405.4M571.6 415.7V404.1M573.6 424.0V412.1M575.6 414.8V400.6M577.6 419.3V407.8M579.6 418.3V406.7M581.6 415.4V403.8M583.6 413.8V397.7M585.6 404.2V392.3M587.6 419.9V404.6M589.6 414.4V398.6M591.6 410.4V393.5M593.6 411.6V396.0M595.6 409.1V395.3M597.6 405.5V392.9M599.6 420.9V405.4M601.6 410.0V393.0M603.6 414.8V400.5M605.6 391.7V375.2M607.6 415.8V398.6M609.6 405.2V387.4M611.6 407.0V391.8M613.6 407.6V392.6M615.6 423.2V408.3M617.6 402.6V388.1M619.6 413.9V398.3M621.6 406.4V390.0M623.6 400.8V383.7M625.6 402.3V384.4M627.6 413.0V395.1M629.6 407.2V388.1M631.6 396.8V382.4M633.6 411.1V395.2M635.6 403.9V387.8M637.6 404.5V387.4M639.6 401.5V385.2M641.6 405.1V386.3M643.6 399.6V380.5M645.6 406.1V389.3M647.6 408.9V391.0M649.6 412.6V398.6M651.6 415.3V401.9M653.6 414.4V399.0M655.6 410.1V395.7M657.6 395.1V379.0M659.6 406.2V386.6M661.6 406.4V392.7M663.6 415.9V398.3M665.6 410.3V395.5M667.6 421.7V407.9M669.6 408.9V390.5M671.6 405.0V390.8M673.6 404.7V387.7M675.6 404.7V390.1M677.6 387.9V369.6M679.6 361.1V333.0M681.6 384.5V361.6M683.6 403.6V383.2M685.6 402.4V387.6M687.6 409.9V390.4M689.6 412.7V398.7M691.6 410.2V390.7M693.6 406.4V389.1M695.6 411.0V391.8" stroke="#cc3636" stroke-width="0.9" fill="none"/>
<polyline points="235.6,397.6 237.6,401.6 239.6,397.8 241.6,401.4 243.6,405.7 245.6,408.1 247.6,413.4 249.6,404.2 251.6,408.8 253.6,418.3 255.6,403.7 257.6,411.4 259.6,405.9 261.6,396.2 263.6,406.0 265.6,412.1 267.6,409.5 269.6,398.6 271.6,401.1 273.6,415.8 275.6,410.8 277.6,400.7 279.6,394.8 281.6,392.8 283.6,398.0 285.6,410.1 287.6,392.4 289.6,402.6 291.6,405.5 293.6,384.1 295.6,398.8 297.6,411.0 299.6,391.7 301.6,403.1 303.6,392.4 305.6,396.3 307.6,410.5 309.6,391.3 311.6,399.8 313.6,395.3 315.6,402.8 317.6,391.5 319.6,399.3 321.6,397.7 323.6,398.9 325.6,406.3 327.6,396.9 329.6,399.6 331.6,412.4 333.6,397.6 335.6,400.0 337.6,403.8 339.6,398.9 341.6,409.8 343.6,405.1 345.6,409.6 347.6,394.5 349.6,393.1 351.6,397.3 353.6,406.8 355.6,405.5 357.6,390.2 359.6,407.4 361.6,411.6 363.6,407.7 365.6,399.3 367.6,398.0 369.6,416.5 371.6,407.8 373.6,413.4 375.6,417.6 377.6,412.8 379.6,418.8 381.6,410.3 383.6,400.7 385.6,409.0 387.6,419.1 389.6,396.1 391.6,412.8 393.6,417.8 395.6,413.9 397.6,408.4 399.6,421.1 401.6,393.9 403.6,410.2 405.6,411.3 407.6,401.6 409.6,417.8 411.6,409.5 413.6,410.2 415.6,407.5 417.6,413.2 419.6,414.9 421.6,415.7 423.6,413.0 425.6,406.6 427.6,403.6 429.6,409.0 431.6,396.0 433.6,400.1 435.6,398.7 437.6,408.3 439.6,412.1 441.6,404.6 443.6,411.5 445.6,405.0 447.6,412.2 449.6,405.0 451.6,400.1 453.6,414.4 455.6,402.3 457.6,411.4 459.6,413.8 461.6,408.4 463.6,406.2 465.6,405.0 467.6,413.8 469.6,400.4 471.6,405.7 473.6,399.7 475.6,415.0 477.6,401.1 479.6,413.0 481.6,406.5 483.6,396.6 485.6,404.0 487.6,404.4 489.6,398.8 491.6,405.1 493.6,412.8 495.6,418.9 497.6,400.3 499.6,399.8 501.6,408.3 503.6,401.6 505.6,400.4 507.6,398.5 509.6,405.0 511.6,415.7 513.6,403.2 515.6,418.5 517.6,402.4 519.6,415.3 521.6,405.1 523.6,408.8 525.6,406.1 527.6,392.3 529.6,418.4 531.6,396.5 533.6,414.3 535.6,399.2 537.6,388.2 539.6,409.4 541.6,406.1 543.6,391.6 545.6,397.7 547.6,397.1 549.6,400.0 551.6,405.3 553.6,411.6 555.6,410.2 557.6,414.7 559.6,409.9 561.6,409.2 563.6,407.9 565.6,401.4 567.6,405.1 569.6,412.9 571.6,409.9 573.6,418.0 575.6,407.7 577.6,413.6 579.6,412.5 581.6,409.6 583.6,405.8 585.6,398.2 587.6,412.2 589.6,406.5 591.6,402.0 593.6,403.8 595.6,402.2 597.6,399.2 599.6,413.1 601.6,401.5 603.6,407.7 605.6,383.4 607.6,407.2 609.6,396.3 611.6,399.4 613.6,400.1 615.6,415.8 617.6,395.4 619.6,406.1 621.6,398.2 623.6,392.2 625.6,393.4 627.6,404.0 629.6,397.7 631.6,389.6 633.6,403.1 635.6,395.8 637.6,396.0 639.6,393.3 641.6,395.7 643.6,390.1 645.6,397.7 647.6,400.0 649.6,405.6 651.6,408.6 653.6,406.7 655.6,402.9 657.6,387.1 659.6,396.4 661.6,399.6 663.6,407.1 665.6,402.9 667.6,414.8 669.6,399.7 671.6,397.9 673.6,396.2 675.6,397.4 677.6,378.7 679.6,347.1 681.6,373.1 683.6,393.4 685.6,395.0 687.6,400.1 689.6,405.7 691.6,400.5 693.6,397.7 695.6,401.4" stroke="#dd1010" stroke-width="1" fill="none"/>
<path d="M235.6 400.7V384.3M237.6 399.1V382.7M239.6 401.7V382.4M241.6 398.4V379.2M243.6 403.9V390.7M245.6 416.6V399.6M247.6 423.4V406.1M249.6 422.8V407.5M251.6 410.8V396.3M253.6 401.6V384.7M255.6 395.6V378.7M257.6 413.5V398.1M259.6 426.0V411.7M261.6 422.6V408.7M263.6 413.8V396.7M265.6 417.8V402.1M267.6 419.4V406.8M269.6 420.5V404.2M271.6 423.6V406.2M273.6 408.1V391.5M275.6 407.5V389.5M277.6 407.2V393.5M279.6 408.8V395.1M281.6 417.2V399.3M283.6 417.8V401.5M285.6 417.7V400.3M287.6 423.9V411.6M289.6 421.0V404.3M291.6 408.6V390.8M293.6 410.7V393.0M295.6 403.1V389.7M297.6 403.7V390.3M299.6 407.9V395.4M301.6 418.9V402.5M303.6 406.2V388.4M305.6 413.0V394.9M307.6 404.0V391.1M309.6 414.4V397.1M311.6 409.9V396.2M313.6 403.4V382.9M315.6 406.8V387.6M317.6 401.7V382.1M319.6 406.8V387.4M321.6 409.0V390.6M323.6 398.7V378.1M325.6 390.4V372.4M327.6 401.6V386.6M329.6 414.0V398.1M331.6 414.9V399.6M333.6 402.2V384.3M335.6 399.8V384.2M337.6 394.7V374.4M339.6 413.7V395.9M341.6 413.8V397.1M343.6 401.7V383.8M345.6 380.7V358.6M347.6 370.6V349.1M349.6 401.1V380.2M351.6 401.1V380.7M353.6 406.8V390.9M355.6 413.0V392.9M357.6 407.4V388.7M359.6 395.9V380.2M361.6 402.6V382.0M363.6 407.6V388.8M365.6 398.0V372.9M367.6 377.6V349.7M369.6 394.2V379.5M371.6 402.9V386.0M373.6 406.6V388.8M375.6 409.7V394.6M377.6 402.0V386.2M379.6 399.5V380.5M381.6 404.6V384.8M383.6 409.9V393.5M385.6 400.2V382.9M387.6 415.8V396.8M389.6 406.8V387.2M391.6 411.3V395.6M393.6 390.5V370.8M395.6 401.1V383.7M397.6 408.7V390.6M399.6 409.3V391.8M401.6 400.1V383.1M403.6 423.8V405.6M405.6 413.4V396.3M407.6 402.4V387.3M409.6 415.3V399.1M411.6 420.0V400.7M413.6 405.1V391.2M415.6 411.2V395.6M417.6 412.6V397.9M419.6 412.0V393.8M421.6 407.8V393.5M423.6 401.1V382.8M425.6 407.6V388.0M427.6 401.2V385.3M429.6 405.4V388.3M431.6 408.7V390.7M433.6 407.0V392.2M435.6 413.2V395.9M437.6 401.5V385.0M439.6 410.2V392.0M441.6 411.0V394.3M443.6 385.7V368.4M445.6 386.9V368.6M447.6 403.3V386.1M449.6 410.9V396.8M451.6 395.3V379.3M453.6 413.2V395.3M455.6 411.3V393.7M457.6 401.3V384.2M459.6 405.5V391.3M461.6 406.7V386.4M463.6 412.5V397.9M465.6 409.9V393.1M467.6 407.4V387.0M469.6 403.7V386.9M471.6 400.1V384.2M473.6 402.1V386.2M475.6 415.5V395.5M477.6 402.1V386.7M479.6 401.0V382.5M481.6 399.9V384.3M483.6 412.3V394.9M485.6 398.9V378.7M487.6 408.9V393.2M489.6 398.5V383.7M491.6 405.4V387.3M493.6 407.8V389.7M495.6 409.2V393.6M497.6 409.0V394.9M499.6 407.3V391.6M501.6 415.8V395.6M503.6 401.6V381.7M505.6 414.9V396.1M507.6 412.2V394.0M509.6 405.6V386.2M511.6 410.5V393.7M513.6 413.2V394.2M515.6 411.3V397.4M517.6 415.1V396.8M519.6 421.5V407.0M521.6 397.1V377.4M523.6 410.5V392.0M525.6 402.4V387.7M527.6 408.2V393.4M529.6 413.1V393.8M531.6 407.6V388.7M533.6 407.1V392.4M535.6 398.0V382.2M537.6 402.9V383.0M539.6 393.0V377.7M541.6 410.8V394.2M543.6 406.2V386.9M545.6 404.0V386.0M547.6 390.1V373.5M549.6 399.1V383.0M551.6 411.3V397.1M553.6 404.6V391.9M555.6 409.5V392.1M557.6 402.9V388.1M559.6 420.8V406.9M561.6 410.7V396.4M563.6 398.6V382.0M565.6 404.8V386.0M567.6 401.0V382.5M569.6 397.9V376.7M571.6 397.2V377.5M573.6 409.4V390.2M575.6 404.4V388.6M577.6 400.2V384.8M579.6 410.4V391.1M581.6 405.1V386.7M583.6 400.7V384.5M585.6 419.2V399.8M587.6 398.6V378.2M589.6 411.7V393.9M591.6 406.5V389.6M593.6 399.6V379.5M595.6 404.7V384.7M597.6 404.7V385.2M599.6 391.4V371.0M601.6 404.9V386.6M603.6 402.0V379.8M605.6 393.5V373.1M607.6 394.1V377.5M609.6 384.6V363.0M611.6 396.3V376.8M613.6 391.2V372.0M615.6 394.9V376.2M617.6 391.5V376.3M619.6 391.0V374.9M621.6 403.9V383.4M623.6 400.2V378.9M625.6 409.9V389.4M627.6 402.1V382.1M629.6 408.4V393.2M631.6 412.3V392.9M633.6 398.5V382.7M635.6 381.1V358.6M637.6 395.4V372.6M639.6 396.6V376.7M641.6 391.7V368.2M643.6 401.2V383.3M645.6 398.3V375.9M647.6 392.1V375.6M649.6 404.3V387.2M651.6 406.8V387.7M653.6 388.9V363.6M655.6 384.1V358.5M657.6 379.1V361.9M659.6 387.4V368.5M661.6 399.0V376.6M663.6 396.6V377.4M665.6 398.0V378.7M667.6 413.5V395.5M669.6 414.1V400.7M671.6 405.6V391.2M673.6 404.2V388.6M675.6 395.2V374.8M677.6 397.6V375.9M679.6 378.3V358.3M681.6 390.6V367.6M683.6 391.4V371.6M685.6 387.2V370.6M687.6 399.7V383.1M689.6 395.8V377.4M691.6 396.5V380.3M693.6 394.8V379.4M695.6 404.0V383.9" stroke="#2a2a2a" stroke-width="0.9" fill="none"/>
<polyline points="235.6,392.5 237.6,390.9 239.6,392.1 241.6,388.8 243.6,397.3 245.6,408.1 247.6,414.7 249.6,415.2 251.6,403.6 253.6,393.1 255.6,387.1 257.6,405.8 259.6,418.8 261.6,415.7 263.6,405.3 265.6,410.0 267.6,413.1 269.6,412.3 271.6,414.9 273.6,399.8 275.6,398.5 277.6,400.3 279.6,402.0 281.6,408.3 283.6,409.6 285.6,409.0 287.6,417.7 289.6,412.7 291.6,399.7 293.6,401.9 295.6,396.4 297.6,397.0 299.6,401.6 301.6,410.7 303.6,397.3 305.6,404.0 307.6,397.6 309.6,405.7 311.6,403.1 313.6,393.1 315.6,397.2 317.6,391.9 319.6,397.1 321.6,399.8 323.6,388.4 325.6,381.4 327.6,394.1 329.6,406.1 331.6,407.3 333.6,393.3 335.6,392.0 337.6,384.6 339.6,404.8 341.6,405.4 343.6,392.8 345.6,369.6 347.6,359.9 349.6,390.6 351.6,390.9 353.6,398.8 355.6,403.0 357.6,398.1 359.6,388.1 361.6,392.3 363.6,398.2 365.6,385.5 367.6,363.7 369.6,386.9 371.6,394.4 373.6,397.7 375.6,402.1 377.6,394.1 379.6,390.0 381.6,394.7 383.6,401.7 385.6,391.5 387.6,406.3 389.6,397.0 391.6,403.4 393.6,380.6 395.6,392.4 397.6,399.6 399.6,400.5 401.6,391.6 403.6,414.7 405.6,404.8 407.6,394.8 409.6,407.2 411.6,410.3 413.6,398.2 415.6,403.4 417.6,405.2 419.6,402.9 421.6,400.6 423.6,391.9 425.6,397.8 427.6,393.3 429.6,396.8 431.6,399.7 433.6,399.6 435.6,404.5 437.6,393.3 439.6,401.1 441.6,402.6 443.6,377.0 445.6,377.8 447.6,394.7 449.6,403.8 451.6,387.3 453.6,404.3 455.6,402.5 457.6,392.8 459.6,398.4 461.6,396.5 463.6,405.2 465.6,401.5 467.6,397.2 469.6,395.3 471.6,392.1 473.6,394.1 475.6,405.5 477.6,394.4 479.6,391.8 481.6,392.1 483.6,403.6 485.6,388.8 487.6,401.0 489.6,391.1 491.6,396.4 493.6,398.8 495.6,401.4 497.6,401.9 499.6,399.4 501.6,405.7 503.6,391.7 505.6,405.5 507.6,403.1 509.6,395.9 511.6,402.1 513.6,403.7 515.6,404.4 517.6,405.9 519.6,414.2 521.6,387.2 523.6,401.3 525.6,395.1 527.6,400.8 529.6,403.4 531.6,398.2 533.6,399.7 535.6,390.1 537.6,393.0 539.6,385.3 541.6,402.5 543.6,396.5 545.6,395.0 547.6,381.8 549.6,391.1 551.6,404.2 553.6,398.2 555.6,400.8 557.6,395.5 559.6,413.8 561.6,403.5 563.6,390.3 565.6,395.4 567.6,391.8 569.6,387.3 571.6,387.3 573.6,399.8 575.6,396.5 577.6,392.5 579.6,400.7 581.6,395.9 583.6,392.6 585.6,409.5 587.6,388.4 589.6,402.8 591.6,398.1 593.6,389.5 595.6,394.7 597.6,395.0 599.6,381.2 601.6,395.8 603.6,390.9 605.6,383.3 607.6,385.8 609.6,373.8 611.6,386.5 613.6,381.6 615.6,385.6 617.6,383.9 619.6,383.0 621.6,393.6 623.6,389.6 625.6,399.6 627.6,392.1 629.6,400.8 631.6,402.6 633.6,390.6 635.6,369.9 637.6,384.0 639.6,386.6 641.6,380.0 643.6,392.3 645.6,387.1 647.6,383.9 649.6,395.8 651.6,397.3 653.6,376.2 655.6,371.3 657.6,370.5 659.6,378.0 661.6,387.8 663.6,387.0 665.6,388.3 667.6,404.5 669.6,407.4 671.6,398.4 673.6,396.4 675.6,385.0 677.6,386.8 679.6,368.3 681.6,379.1 683.6,381.5 685.6,378.9 687.6,391.4 689.6,386.6 691.6,388.4 693.6,387.1 695.6,394.0" stroke="#000000" stroke-width="1" fill="none"/>
</g>
<rect x="234.4" y="320.5" width="463.0" height="110.6" fill="none" stroke="#222" stroke-width="1"/>
<path d="M238.4 431.1V427.1M238.4 320.5V324.5M246.5 431.1V424.1M246.5 320.5V327.5M254.5 431.1V427.1M254.5 320.5V324.5M262.6 431.1V427.1M262.6 320.5V324.5M270.6 431.1V427.1M270.6 320.5V324.5M278.7 431.1V427.1M278.7 320.5V324.5M286.7 431.1V424.1M286.7 320.5V327.5M294.8 431.1V427.1M294.8 320.5V324.5M302.8 431.1V427.1M302.8 320.5V324.5M310.9 431.1V427.1M310.9 320.5V324.5M318.9 431.1V427.1M318.9 320.5V324.5M327.0 431.1V424.1M327.0 320.5V327.5M335.1 431.1V427.1M335.1 320.5V324.5M343.1 431.1V427.1M343.1 320.5V324.5M351.2 431.1V427.1M351.2 320.5V324.5M359.2 431.1V427.1M359.2 320.5V324.5M367.3 431.1V424.1M367.3 320.5V327.5M375.3 431.1V427.1M375.3 320.5V324.5M383.4 431.1V427.1M383.4 320.5V324.5M391.4 431.1V427.1M391.4 320.5V324.5M399.5 431.1V427.1M399.5 320.5V324.5M407.5 431.1V424.1M407.5 320.5V327.5M415.6 431.1V427.1M415.6 320.5V324.5M423.6 431.1V427.1M423.6 320.5V324.5M431.7 431.1V427.1M431.7 320.5V324.5M439.7 431.1V427.1M439.7 320.5V324.5M447.8 431.1V424.1M447.8 320.5V327.5M455.8 431.1V427.1M455.8 320.5V324.5M463.9 431.1V427.1M463.9 320.5V324.5M471.9 431.1V427.1M471.9 320.5V324.5M480.0 431.1V427.1M480.0 320.5V324.5M488.0 431.1V424.1M488.0 320.5V327.5M496.1 431.1V427.1M496.1 320.5V324.5M504.1 431.1V427.1M504.1 320.5V324.5M512.2 431.1V427.1M512.2 320.5V324.5M520.3 431.1V427.1M520.3 320.5V324.5M528.3 431.1V424.1M528.3 320.5V327.5M536.4 431.1V427.1M536.4 320.5V324.5M544.4 431.1V427.1M544.4 320.5V324.5M552.5 431.1V427.1M552.5 320.5V324.5M560.5 431.1V427.1M560.5 320.5V324.5M568.6 431.1V424.1M568.6 320.5V327.5M576.6 431.1V427.1M576.6 320.5V324.5M584.7 431.1V427.1M584.7 320.5V324.5M592.7 431.1V427.1M592.7 320.5V324.5M600.8 431.1V427.1M600.8 320.5V324.5M608.8 431.1V424.1M608.8 320.5V327.5M616.9 431.1V427.1M616.9 320.5V324.5M624.9 431.1V427.1M624.9 320.5V324.5M633.0 431.1V427.1M633.0 320.5V324.5M641.0 431.1V427.1M641.0 320.5V324.5M649.1 431.1V424.1M649.1 320.5V327.5M657.1 431.1V427.1M657.1 320.5V324.5M665.2 431.1V427.1M665.2 320.5V324.5M673.2 431.1V427.1M673.2 320.5V324.5M681.3 431.1V427.1M681.3 320.5V324.5M689.3 431.1V424.1M689.3 320.5V327.5M697.4 431.1V427.1M697.4 320.5V324.5M234.4 431.1H241.4M697.4 431.1H690.4M234.4 424.2H238.4M697.4 424.2H693.4M234.4 417.3H238.4M697.4 417.3H693.4M234.4 410.4H238.4M697.4 410.4H693.4M234.4 403.5H241.4M697.4 403.5H690.4M234.4 396.5H238.4M697.4 396.5H693.4M234.4 389.6H238.4M697.4 389.6H693.4M234.4 382.7H238.4M697.4 382.7H693.4M234.4 375.8H241.4M697.4 375.8H690.4M234.4 368.9H238.4M697.4 368.9H693.4M234.4 362.0H238.4M697.4 362.0H693.4M234.4 355.1H238.4M697.4 355.1H693.4M234.4 348.1H241.4M697.4 348.1H690.4M234.4 341.2H238.4M697.4 341.2H693.4M234.4 334.3H238.4M697.4 334.3H693.4M234.4 327.4H238.4M697.4 327.4H693.4M234.4 320.5H241.4M697.4 320.5H690.4" stroke="#000" stroke-width="1" fill="none"/>
<text x="231" y="435.3" text-anchor="end" font-size="12">0</text>
<text x="231" y="407.7" text-anchor="end" font-size="12">2</text>
<text x="231" y="380.0" text-anchor="end" font-size="12">4</text>
<text x="231" y="352.3" text-anchor="end" font-size="12">6</text>
<text x="231" y="324.7" text-anchor="end" font-size="12">8</text>
<text x="246.5" y="444.1" text-anchor="middle" font-size="12">23</text>
<text x="286.7" y="444.1" text-anchor="middle" font-size="12">24</text>
<text x="327.0" y="444.1" text-anchor="middle" font-size="12">25</text>
<text x="367.3" y="444.1" text-anchor="middle" font-size="12">26</text>
<text x="407.5" y="444.1" text-anchor="middle" font-size="12">27</text>
<text x="447.8" y="444.1" text-anchor="middle" font-size="12">28</text>
<text x="488.0" y="444.1" text-anchor="middle" font-size="12">29</text>
<text x="528.3" y="444.1" text-anchor="middle" font-size="12">30</text>
<text x="568.6" y="444.1" text-anchor="middle" font-size="12">31</text>
<text x="608.8" y="444.1" text-anchor="middle" font-size="12">32</text>
<text x="649.1" y="444.1" text-anchor="middle" font-size="12">33</text>
<text x="689.3" y="444.1" text-anchor="middle" font-size="12">34</text>
<path d="M234.4 68.8H391.7" stroke="#5858a8" stroke-width="1"/>
<rect x="243.0" y="68.8" width="6.7" height="8.5" fill="#1010e0"/>
<path d="M251.7 68.8V77.3" stroke="#3030a0" stroke-width="1.3" fill="none"/>
<path d="M260.8 68.8V77.3" stroke="#8080c0" stroke-width="1" fill="none"/>
<path d="M296.7 68.8V77.3" stroke="#6060d0" stroke-width="1" fill="none"/>
<path d="M382.5 68.8V77.5M386.3 68.8V77.5M391.3 68.8V77.5" stroke="#303090" stroke-width="1.1" fill="none"/>
<path d="M378.0 83.9H460.0" stroke="#d07070" stroke-width="1"/>
<path d="M460.0 83.9H677.7" stroke="#6060b0" stroke-width="1"/>
<rect x="378.0" y="83.9" width="6.0" height="10.8" fill="#e01010"/>
<path d="M387.0 83.9V94.7M390.0 83.9V94.7M394.7 83.9V94.7" stroke="#b03030" stroke-width="1" fill="none"/>
<path d="M402.5 83.9V94.7" stroke="#f0c0c0" stroke-width="1" fill="none"/>
<path d="M417.0 83.9V94.7M452.5 83.9V94.7" stroke="#b03030" stroke-width="1" fill="none"/>
<rect x="460.3" y="83.9" width="5.5" height="10.8" fill="#1010e0"/>
<path d="M468.0 83.9V94.7M470.0 83.9V94.7M473.0 83.9V94.7" stroke="#4040e0" stroke-width="1" fill="none"/>
<path d="M478.5 83.9V94.7M486.3 83.9V94.7" stroke="#3030a0" stroke-width="1" fill="none"/>
<path d="M537.5 83.9V100.0" stroke="#303090" stroke-width="1" fill="none"/>
<path d="M661.0 83.9V94.0M666.0 83.9V94.0M677.5 83.9V94.0" stroke="#6060b0" stroke-width="1" fill="none"/>
<path d="M333.0 68.8V100.0" stroke="#a03030" stroke-width="1" fill="none"/>
<path d="M234.4 223.5H372.0" stroke="#c06060" stroke-width="1.2"/>
<path d="M372.0 223.5H655.6" stroke="#4848a0" stroke-width="1.1"/>
<rect x="246.5" y="223.6" width="7.8" height="10.9" fill="#e01010"/>
<path d="M258.6 223.6V234.5M267.4 223.6V234.5M277.3 223.6V234.5M295.2 223.6V234.5M339.0 223.6V234.5" stroke="#b03030" stroke-width="1" fill="none"/>
<rect x="378.5" y="223.5" width="6.4" height="11.0" fill="#1010e0"/>
<path d="M387.2 223.5V234.5M389.5 223.5V234.5M392.7 223.5V234.5M395.0 223.5V234.5" stroke="#3030d0" stroke-width="1" fill="none"/>
<path d="M401.5 223.5V234.5M411.5 223.5V234.5" stroke="#a0a0d0" stroke-width="1" fill="none"/>
<path d="M430.5 223.5V234.5" stroke="#202070" stroke-width="1" fill="none"/>
<path d="M475.0 223.5V234.5" stroke="#4040c0" stroke-width="1" fill="none"/>
<path d="M640.0 223.5V235.0M655.6 223.5V235.0" stroke="#303090" stroke-width="1" fill="none"/>
<path d="M472.8 206.5H697.0" stroke="#e0a0a0" stroke-width="1.0"/>
<rect x="472.8" y="206.5" width="8.8" height="10.1" fill="#e01010"/>
<path d="M484.7 206.5V216.6M487.5 206.5V216.6M492.0 206.5V216.6" stroke="#b03030" stroke-width="1" fill="none"/>
<path d="M500.7 206.5V216.6M513.3 206.5V216.6M537.3 206.5V216.6" stroke="#b03030" stroke-width="1" fill="none"/>
<path d="M593.5 206.5V216.6" stroke="#e0b0b0" stroke-width="1" fill="none"/>
<rect x="674.0" y="206.5" width="6.0" height="10.5" fill="#1010e0"/>
<path d="M683.0 206.5V217.0M686.0 206.5V217.0" stroke="#4040d0" stroke-width="1" fill="none"/>
<path d="M692.0 206.5V217.0" stroke="#6060a0" stroke-width="1" fill="none"/>
<path d="M339.0 327.4H697.0" stroke="#c06060" stroke-width="1.0"/>
<rect x="339.3" y="327.3" width="7.4" height="10.4" fill="#e01010"/>
<path d="M349.0 327.3V337.7M352.0 327.3V337.7M355.5 327.3V337.7M367.0 327.3V337.7" stroke="#b03030" stroke-width="1" fill="none"/>
<path d="M360.5 327.3V337.7" stroke="#f0c0c0" stroke-width="1" fill="none"/>
<path d="M368.0 327.3V337.7M407.0 327.3V337.7M466.0 327.3V337.7" stroke="#b03030" stroke-width="1" fill="none"/>
<path d="M234.4 348.2H509.0" stroke="#5050a8" stroke-width="1.3"/>
<path d="M236.0 348.2V358.0M242.0 348.2V358.0M247.5 348.2V358.0M277.7 348.2V358.0" stroke="#303090" stroke-width="1.2" fill="none"/>
<path d="M258.0 348.2V358.0" stroke="#c0c0e0" stroke-width="1" fill="none"/>
<path d="M318.5 348.2V358.0" stroke="#a06060" stroke-width="1" fill="none"/>
<path d="M323.0 348.2V358.0M479.0 348.2V358.0M491.0 348.2V358.0M509.0 348.2V358.0" stroke="#303090" stroke-width="1" fill="none"/>
<rect x="593.2" y="327.4" width="7.6" height="10.3" fill="#1010e0"/>
<path d="M603.0 327.4V337.7M605.0 327.4V337.7M607.5 327.4V337.7M610.0 327.4V337.7" stroke="#3030d0" stroke-width="1" fill="none"/>
<path d="M616.5 327.4V337.7M624.5 327.4V337.7M639.0 327.4V337.7M666.0 327.4V337.7" stroke="#404090" stroke-width="1" fill="none"/>
<text x="283.5" y="81.5" text-anchor="middle" font-size="11" font-weight="bold" fill="#141470">Mg</text>
<text x="524.0" y="81.5" text-anchor="middle" font-size="11" font-weight="bold" fill="#141470">Ne</text>
<text x="368.0" y="217.5" text-anchor="middle" font-size="11" font-weight="bold" fill="#141470">O</text>
<text x="600.0" y="200.5" text-anchor="middle" font-size="11" font-weight="bold" fill="#141470">N</text>
<text x="514.0" y="339.5" text-anchor="middle" font-size="11" font-weight="bold" fill="#141470">C</text>
<text x="380.5" y="358.5" text-anchor="middle" font-size="11" font-weight="bold" fill="#141470">N</text>
<text x="466" y="460.5" text-anchor="middle" font-size="12">Rest Wavelength [Å]</text>
<text transform="translate(217.8,246.3) rotate(-90)" text-anchor="middle" font-size="12.4">Flux [10<tspan font-size="8" dy="-5.5">-4</tspan><tspan dy="5.5"> photons cm</tspan><tspan font-size="8" dy="-5.5">-2</tspan><tspan dy="5.5"> s</tspan><tspan font-size="8" dy="-5.5">-1</tspan><tspan dy="5.5"> Å</tspan><tspan font-size="8" dy="-5.5">-1</tspan><tspan dy="5.5">]</tspan></text>
</svg>
<svg width="720" height="540" viewBox="0 0 720 540" style="pointer-events:none">
<path d="M75 496H114M75 503H114M104 493.3L117.5 499.5L104 505.7" stroke="#000" stroke-width="1.7" fill="none"/>
</svg>
<div class="t" style="left:112.8px;top:479.3px;color:#3535A2;font-size:27.5px">Object varied in time</div>
<div class="t" style="left:362px;top:479px">or</div>
<div class="t" style="left:401px;top:479.2px;color:#3535A2;font-size:27.8px">a result of the poor S/N</div>
</body></html>
